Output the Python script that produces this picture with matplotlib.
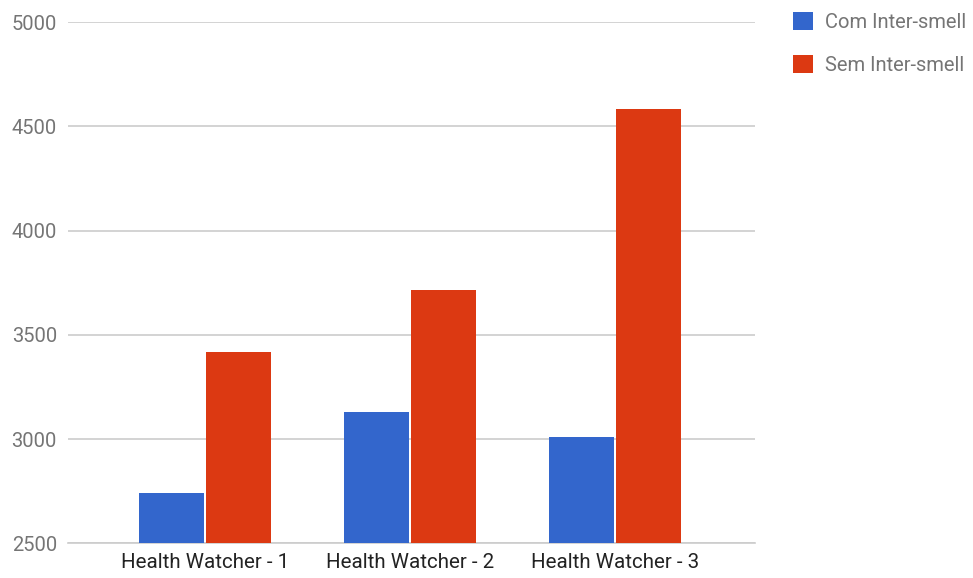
import numpy as np
import matplotlib
matplotlib.use('Agg')
import matplotlib.pyplot as plt
from matplotlib.patches import Patch

# data
categories = ['Health Watcher - 1', 'Health Watcher - 2', 'Health Watcher - 3']
com_inter = [2740, 3130, 3010]
sem_inter = [3418, 3714, 4582]
series_names = ['Com Inter-smell', 'Sem Inter-smell']
yticks = [2500, 3000, 3500, 4000, 4500, 5000]

BLUE = '#3366CC'
RED = '#DC3912'
GRID = '#CCCCCC'
TICK = '#757575'

plt.rcParams['font.family'] = ['Roboto', 'DejaVu Sans']

fig = plt.figure(figsize=(9.73, 5.78), dpi=100)
ax = fig.add_axes([68 / 973, 1 - 543.3 / 578, (755 - 68) / 973, (543.3 - 22) / 578])

x = np.arange(len(categories))
w = 0.317
gap = 0.005
ax.bar(x - w / 2 - gap, com_inter, width=w, color=BLUE, zorder=3)
ax.bar(x + w / 2 + gap, sem_inter, width=w, color=RED, zorder=3)

ax.set_xlim(-0.668, 2.683)
ax.set_ylim(2500, 5000)
ax.set_yticks(yticks)
ax.set_yticklabels([str(t) for t in yticks])
ax.set_xticks(x)
ax.set_xticklabels(categories)

ax.tick_params(axis='y', length=0, pad=8, labelsize=14.5, labelcolor=TICK)
ax.tick_params(axis='x', length=0, pad=7, labelsize=14.8, labelcolor='#222222')

ax.grid(True, axis='y', color=GRID, linewidth=1.2, zorder=0)
for s in ['top', 'right', 'left']:
    ax.spines[s].set_visible(False)
ax.spines['bottom'].set_color(GRID)
ax.spines['bottom'].set_linewidth(1.2)

handles = [Patch(facecolor=BLUE), Patch(facecolor=RED)]
leg = fig.legend(handles, series_names, loc='upper left',
                 bbox_to_anchor=(785 / 973, 1 - 4 / 578),
                 frameon=False, fontsize=14.5, handlelength=1.0, handleheight=1.0,
                 handletextpad=0.6, labelspacing=1.15, borderaxespad=0)
for t in leg.get_texts():
    t.set_color(TICK)

fig.savefig('out.png', dpi=100, facecolor='white')
